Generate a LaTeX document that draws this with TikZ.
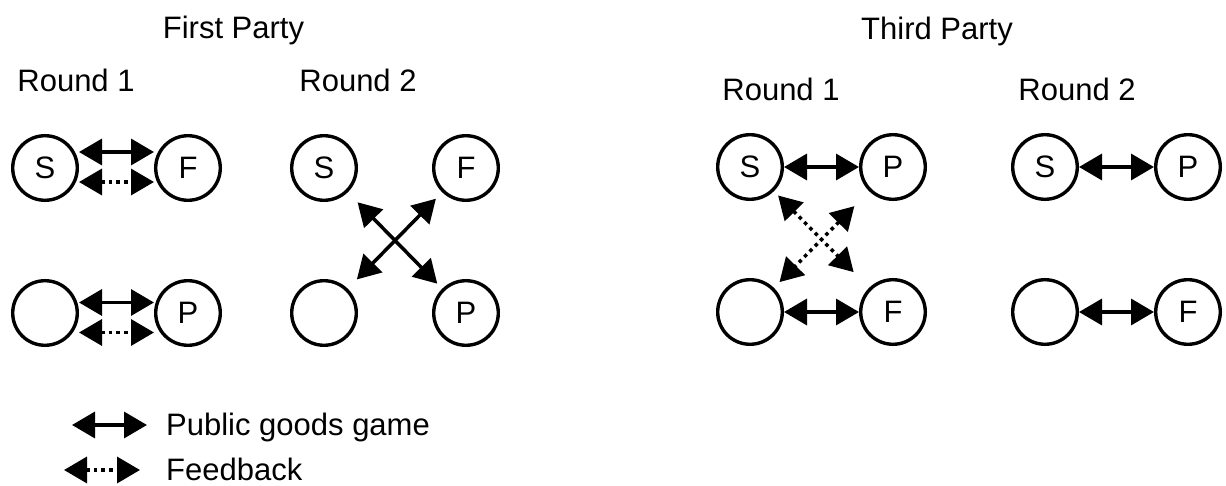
\documentclass[tikz,border=0pt]{standalone}
\usepackage{fontspec}
\setmainfont{Liberation Sans}
\usetikzlibrary{arrows.meta}
\begin{document}
\begin{tikzpicture}[x=1pt,y=-1pt,
  every node/.style={font=\fontsize{31}{37}\selectfont},
  agent/.style={draw, circle, line width=3.4pt, minimum size=64.6pt, inner sep=0pt},
  lbl/.style={anchor=base, inner sep=0pt},
  pg/.style={line width=3.5pt, {Triangle[length=23pt,width=26pt]}-{Triangle[length=23pt,width=26pt]}},
  fb/.style={pg, dash pattern=on 3.6pt off 4pt}
]
\useasboundingbox (0,0) rectangle (1226,486);

% titles
\node[lbl] (t1) at (233.5,39) {First Party};
\node[lbl] (t2) at (937,40) {Third Party};
\node[lbl] (r11) at (76,92) {Round 1};
\node[lbl] (r12) at (358,92) {Round 2};
\node[lbl] (r21) at (781,101) {Round 1};
\node[lbl] (r22) at (1077,101) {Round 2};

% First party, round 1
\node[agent] (S1) at (45,168) {S};
\node[agent] (F1) at (188,168) {F};
\node[agent] (E1) at (45,313) {};
\node[agent] (P1) at (188,313) {P};
\draw[pg] ([yshift=16pt]S1.east) -- ([yshift=16pt]F1.west);
\draw[fb] ([yshift=-14pt]S1.east) -- ([yshift=-14pt]F1.west);
\draw[pg] ([yshift=10.5pt]E1.east) -- ([yshift=10.5pt]P1.west);
\draw[fb] ([yshift=-19.5pt]E1.east) -- ([yshift=-19.5pt]P1.west);

% First party, round 2
\node[agent] (S2) at (324,168) {S};
\node[agent] (F2) at (466,168) {F};
\node[agent] (E2) at (324,313) {};
\node[agent] (P2) at (466,313) {P};
\draw[pg, shorten <=14pt, shorten >=7pt] (S2) -- (P2);
\draw[pg, shorten <=9pt, shorten >=13pt] (F2) -- (E2);

% Third party, round 1
\node[agent] (S3) at (750,167) {S};
\node[agent] (P3) at (893,167) {P};
\node[agent] (E3) at (750,312) {};
\node[agent] (F3) at (893,312) {F};
\draw[pg] (S3) -- (P3);
\draw[pg] (E3) -- (F3);
\draw[fb, shorten <=6pt, shorten >=22pt] (S3) -- (F3);
\draw[fb, shorten <=21pt, shorten >=8pt] (P3) -- (E3);

% Third party, round 2
\node[agent] (S4) at (1045,167) {S};
\node[agent] (P4) at (1188,167) {P};
\node[agent] (E4) at (1045,312) {};
\node[agent] (F4) at (1188,312) {F};
\draw[pg] (S4) -- (P4);
\draw[pg] (E4) -- (F4);

% legend
\coordinate (la1) at (72,425);
\coordinate (lb1) at (147,425);
\coordinate (la2) at (64,470);
\coordinate (lb2) at (140,470);
\draw[pg] (la1) -- (lb1);
\draw[fb] (la2) -- (lb2);
\node[anchor=base west, inner sep=0pt] (lg1) at (166,435) {Public goods game};
\node[anchor=base west, inner sep=0pt] (lg2) at (166,480) {Feedback};
\end{tikzpicture}
\end{document}
